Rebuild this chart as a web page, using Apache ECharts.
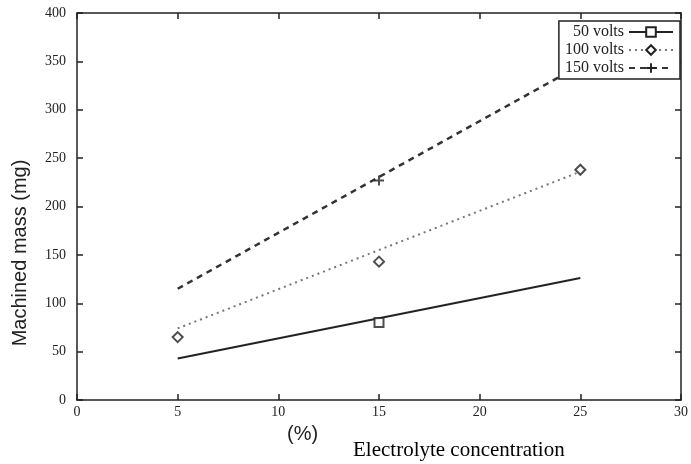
<!DOCTYPE html>
<html>
<head>
    <meta charset="utf-8">
    <title>Machined mass vs electrolyte concentration</title>
    <script src="https://cdn.jsdelivr.net/npm/echarts@6/dist/echarts.min.js"></script>
    <style>
        html, body { margin: 0; padding: 0; background: #fff; }
        #chart { width: 691px; height: 464px; }
    </style>
</head>
<body>
    <div id="chart"></div>
    <script>
        // series names
        const seriesNames = ['50 volts', '100 volts', '150 volts'];

        // fitted lines (end points)
        const fit50 = [[5, 43], [25, 126]];
        const fit100 = [[5, 74], [25, 236]];
        const fit150 = [[5, 115], [25, 346]];

        // measured points
        const pts50 = [[15, 80]];
        const pts100 = [[5, 65], [15, 143], [25, 238]];
        const pts150 = [[15, 227]];

        // axes
        const xTicks = [0, 5, 10, 15, 20, 25, 30];
        const yTicks = [0, 50, 100, 150, 200, 250, 300, 350, 400];

        const ink = '#222';
        const plusSym = 'path://M4,0H6V4H10V6H6V10H4V6H0V4H4Z';
        const serif = 'Liberation Serif';

        const chart = echarts.init(document.getElementById('chart'));

        // one axis of the box; ticks point into the plot
        function boxAxis(pos, ticks, step, labels, margin) {
            return {
                type: 'value',
                position: pos,
                min: ticks[0],
                max: ticks[ticks.length - 1],
                interval: step,
                axisLine: { show: true, onZero: false, lineStyle: { color: ink, width: 1.5 } },
                axisTick: { show: true, inside: true, length: 6, lineStyle: { color: ink, width: 1.5 } },
                splitLine: { show: false },
                axisLabel: { show: labels, color: ink, fontFamily: serif, fontSize: 14, margin: margin }
            };
        }

        chart.setOption({
            animation: false,
            grid: { left: 77, right: 6, top: 13, bottom: 64 },
            legend: {
                data: seriesNames,
                orient: 'vertical',
                right: 11,
                top: 21,
                align: 'right',
                backgroundColor: '#fff',
                borderColor: ink,
                borderWidth: 1.5,
                borderRadius: 0,
                padding: [3, 6, 3, 6],
                itemGap: 2,
                itemWidth: 44,
                itemHeight: 12,
                textStyle: { fontFamily: serif, fontSize: 16, color: ink, width: 70, align: 'right' }
            },
            xAxis: [boxAxis('bottom', xTicks, 5, true, 5), boxAxis('top', xTicks, 5, false, 5)],
            yAxis: [boxAxis('left', yTicks, 50, true, 11), boxAxis('right', yTicks, 50, false, 11)],
            graphic: [{
                type: 'text',
                x: 20,
                y: 253,
                rotation: Math.PI / 2,
                style: {
                    text: 'Machined mass (mg)',
                    font: '20px "Liberation Sans"',
                    fill: ink,
                    align: 'center',
                    verticalAlign: 'middle'
                }
            }, {
                type: 'text',
                left: 287,
                top: 424,
                style: { text: '(%)', font: '20px "Liberation Sans"', fill: ink }
            }, {
                type: 'text',
                left: 353,
                top: 440,
                style: { text: 'Electrolyte concentration', font: '21px "Liberation Serif"', fill: '#000' }
            }],
            series: [{
                name: seriesNames[0],
                type: 'line',
                data: fit50,
                showSymbol: false,
                symbol: 'emptyRect',
                symbolSize: 9,
                itemStyle: { color: ink },
                lineStyle: { color: ink, width: 2, type: 'solid' },
                z: 3
            }, {
                name: seriesNames[1],
                type: 'line',
                data: fit100,
                showSymbol: false,
                symbol: 'emptyDiamond',
                symbolSize: 9,
                itemStyle: { color: ink },
                lineStyle: { color: '#777', width: 2, type: [2, 4] },
                z: 3
            }, {
                name: seriesNames[2],
                type: 'line',
                data: fit150,
                showSymbol: false,
                symbol: plusSym,
                symbolSize: 9,
                itemStyle: { color: ink },
                lineStyle: { color: '#333', width: 2.5, type: [6, 5] },
                z: 3
            }, {
                name: '50 volts points',
                type: 'scatter',
                data: pts50,
                symbol: 'rect',
                symbolSize: 9,
                itemStyle: { color: '#fff', borderColor: ink, borderWidth: 2 },
                z: 4
            }, {
                name: '100 volts points',
                type: 'scatter',
                data: pts100,
                symbol: 'diamond',
                symbolSize: 10,
                itemStyle: { color: '#fff', borderColor: ink, borderWidth: 2 },
                z: 4
            }, {
                name: '150 volts points',
                type: 'scatter',
                data: pts150,
                symbol: plusSym,
                symbolSize: 10,
                itemStyle: { color: ink },
                z: 4
            }]
        });
    </script>
</body>
</html>
